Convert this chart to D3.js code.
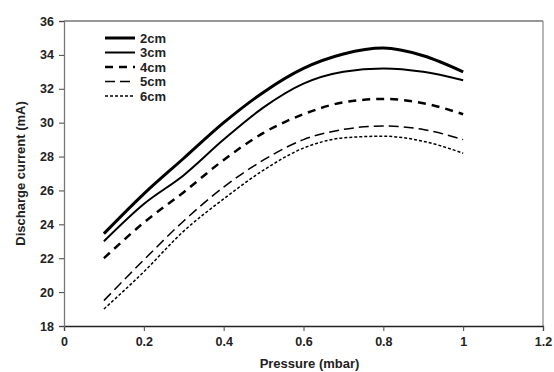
<!DOCTYPE html>
<html>
<head>
<meta charset="utf-8">
<script src="https://cdn.jsdelivr.net/npm/d3@7"></script>
<style>
  body { margin: 0; background: #fff; }
  svg { display: block; font-family: Arial, "Liberation Sans", sans-serif; }
</style>
</head>
<body>
<svg id="chart" width="554" height="372"></svg>
<script>
// Pressure (mbar)
const pressure = [0.1, 0.2, 0.3, 0.4, 0.5, 0.6, 0.7, 0.8, 0.9, 1.0];

// Discharge current (mA) per electrode distance
const cm2 = [23.45, 25.8, 27.9, 30.0, 31.8, 33.2, 34.05, 34.4, 33.95, 33.0];
const cm3 = [23.0, 25.2, 26.9, 29.0, 30.9, 32.3, 33.0, 33.2, 33.0, 32.5];
const cm4 = [22.0, 24.1, 25.9, 27.8, 29.4, 30.5, 31.2, 31.4, 31.15, 30.5];
const cm5 = [19.5, 21.9, 24.2, 26.2, 27.8, 29.0, 29.6, 29.8, 29.6, 29.0];
const cm6 = [19.0, 21.2, 23.6, 25.5, 27.2, 28.5, 29.1, 29.2, 28.9, 28.2];

const seriesNames = ['2cm', '3cm', '4cm', '5cm', '6cm'];
const xTicks = [0, 0.2, 0.4, 0.6, 0.8, 1, 1.2];
const yTicks = [18, 20, 22, 24, 26, 28, 30, 32, 34, 36];

const styles = [
  { width: 3, dash: null },
  { width: 2, dash: null },
  { width: 2.5, dash: '8,6' },
  { width: 1.5, dash: '10,5' },
  { width: 1.5, dash: '3,2' }
];

const series = [cm2, cm3, cm4, cm5, cm6].map((vals, i) => ({
  name: seriesNames[i],
  data: vals.map((v, j) => ({ x: pressure[j], y: v }))
}));

const svg = d3.select('#chart');
const margin = { left: 64, top: 21, right: 11, bottom: 46 };
const width = 554 - margin.left - margin.right;
const height = 372 - margin.top - margin.bottom;

const g = svg.append('g').attr('transform', `translate(${margin.left},${margin.top})`);

const xScale = d3.scaleLinear().domain([0, 1.2]).range([0, width]);
const yScale = d3.scaleLinear().domain([18, 36]).range([height, 0]);

// Frame
g.append('line').attr('x1', 0).attr('x2', width).attr('y1', 0).attr('y2', 0)
  .attr('stroke', '#333').attr('stroke-width', 1.2);
g.append('line').attr('x1', width).attr('x2', width).attr('y1', 0).attr('y2', height)
  .attr('stroke', '#888').attr('stroke-width', 1.2);

// Axes
const xAxis = d3.axisBottom(xScale).tickValues(xTicks).tickSize(5).tickPadding(6)
  .tickFormat(d3.format('~g'));
const yAxis = d3.axisLeft(yScale).tickValues(yTicks).tickSize(5).tickPadding(5);

const gx = g.append('g')
  .attr('class', 'x-axis')
  .attr('transform', `translate(0, ${height})`)
  .call(xAxis);
gx.select('.domain').attr('stroke', '#222').attr('stroke-width', 1.3);

const gy = g.append('g')
  .attr('class', 'y-axis')
  .call(yAxis);
gy.select('.domain').attr('stroke', '#777').attr('stroke-width', 1.3);

[gx, gy].forEach(a => {
  a.selectAll('.tick line').attr('stroke', '#444');
  a.selectAll('.tick text')
    .attr('fill', '#222')
    .style('font-size', '12.5px')
    .style('font-weight', 'bold');
});

// Axis titles
svg.append('text')
  .attr('x', margin.left + width / 2 + 6)
  .attr('y', 368)
  .attr('text-anchor', 'middle')
  .style('font-size', '13px')
  .style('font-weight', 'bold')
  .attr('fill', '#222')
  .text('Pressure (mbar)');

svg.append('text')
  .attr('transform', `translate(25, ${margin.top + height / 2}) rotate(-90)`)
  .attr('text-anchor', 'middle')
  .style('font-size', '13px')
  .style('font-weight', 'bold')
  .attr('fill', '#222')
  .text('Discharge current (mA)');

// Lines
const line = d3.line()
  .x(d => xScale(d.x))
  .y(d => yScale(d.y))
  .curve(d3.curveMonotoneX);

series.forEach((s, i) => {
  g.append('path')
    .datum(s.data)
    .attr('class', `line series-${i}`)
    .attr('fill', 'none')
    .attr('stroke', '#000')
    .attr('stroke-width', styles[i].width)
    .attr('stroke-dasharray', styles[i].dash)
    .attr('d', line);
});

// Legend
const legend = svg.append('g').attr('transform', 'translate(105, 38)');
series.forEach((s, i) => {
  const row = legend.append('g').attr('transform', `translate(0, ${i * 14.5})`);
  row.append('line')
    .attr('x1', 0).attr('x2', 30).attr('y1', 0).attr('y2', 0)
    .attr('stroke', '#000')
    .attr('stroke-width', styles[i].width)
    .attr('stroke-dasharray', styles[i].dash);
  row.append('text')
    .attr('x', 35)
    .attr('y', 4.5)
    .style('font-size', '13px')
    .style('font-weight', 'bold')
    .attr('fill', '#222')
    .text(s.name);
});
</script>
</body>
</html>
